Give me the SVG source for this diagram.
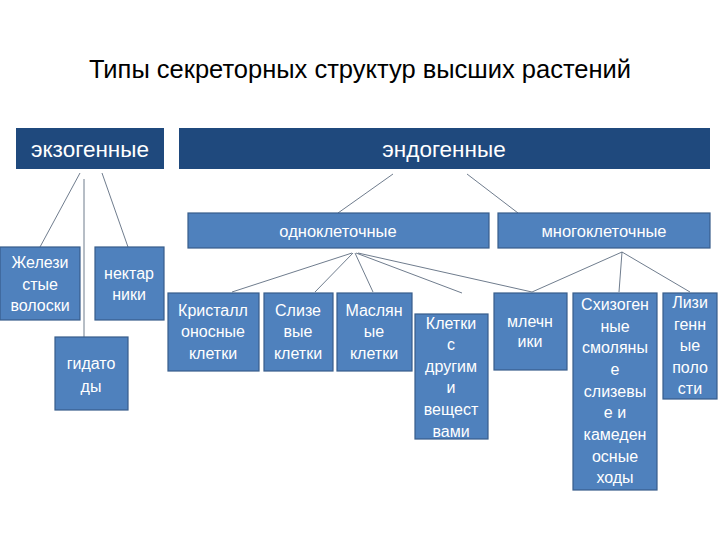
<svg xmlns="http://www.w3.org/2000/svg" width="720" height="540" viewBox="0 0 720 540">
<defs>
<style>
.top{fill:#1F497D;}
.box{fill:#4F81BD;stroke:#385D8A;stroke-width:1.2;}
.t{font-family:"Liberation Sans",Arial,sans-serif;fill:#ffffff;text-anchor:middle;font-size:16px;}
.tm{font-family:"Liberation Sans",Arial,sans-serif;fill:#ffffff;text-anchor:middle;font-size:16.5px;}
.tb{font-family:"Liberation Sans",Arial,sans-serif;fill:#ffffff;text-anchor:middle;font-size:22.5px;}
.title{font-family:"Liberation Sans",Arial,sans-serif;fill:#000000;text-anchor:middle;font-size:25.5px;}
#connectors line{stroke:#4a5a70;stroke-width:0.8;fill:none;}
</style>
</defs>
<rect width="720" height="540" fill="#ffffff"/>
<text class="title" x="360" y="78">Типы секреторных структур высших растений</text>

<g id="connectors">
<line x1="80" y1="173" x2="40" y2="247"/>
<line x1="84" y1="179" x2="84" y2="337"/>
<line x1="102" y1="173" x2="128" y2="247"/>
<line x1="393" y1="174" x2="338" y2="213"/>
<line x1="467" y1="174" x2="518" y2="213"/>
<line x1="352" y1="253" x2="232" y2="292"/>
<line x1="353" y1="253" x2="315" y2="292"/>
<line x1="355" y1="253" x2="373" y2="292"/>
<line x1="356" y1="253" x2="462" y2="293"/>
<line x1="358" y1="253" x2="532" y2="292"/>
<line x1="622" y1="252" x2="532" y2="292"/>
<line x1="622" y1="252" x2="619" y2="292"/>
<line x1="622" y1="252" x2="690" y2="292"/>
</g>

<g id="exo">
<rect class="top" x="16" y="128" width="148" height="41"/>
<text class="tb" x="90" y="157">экзогенные</text>
</g>
<g id="endo">
<rect class="top" x="179" y="128" width="531" height="41"/>
<text class="tb" x="444" y="157">эндогенные</text>
</g>
<g id="uni">
<rect class="box" x="188" y="213" width="301" height="35"/>
<text class="tm" x="338" y="237">одноклеточные</text>
</g>
<g id="multi">
<rect class="box" x="498" y="213" width="212" height="35"/>
<text class="tm" x="604" y="237">многоклеточные</text>
</g>

<g id="hairs">
<rect class="box" x="0" y="247" width="80" height="73"/>
<text class="t" x="40" y="268">Желези</text>
<text class="t" x="40" y="290">стые</text>
<text class="t" x="40" y="311">волоски</text>
</g>
<g id="nectar">
<rect class="box" x="95" y="247" width="69" height="73"/>
<text class="t" x="129" y="279">нектар</text>
<text class="t" x="129" y="300">ники</text>
</g>
<g id="hydat">
<rect class="box" x="55" y="337" width="73" height="73"/>
<text class="t" x="91" y="369">гидато</text>
<text class="t" x="91" y="392">ды</text>
</g>

<g id="crystal">
<rect class="box" x="168" y="293" width="91" height="78"/>
<text class="t" x="213" y="316">Кристалл</text>
<text class="t" x="213" y="337">оносные</text>
<text class="t" x="213" y="359">клетки</text>
</g>
<g id="mucus">
<rect class="box" x="264" y="293" width="69" height="78"/>
<text class="t" x="298" y="316">Слизе</text>
<text class="t" x="298" y="337">вые</text>
<text class="t" x="298" y="359">клетки</text>
</g>
<g id="oil">
<rect class="box" x="337" y="293" width="75" height="78"/>
<text class="t" x="374" y="316">Маслян</text>
<text class="t" x="374" y="337">ые</text>
<text class="t" x="374" y="359">клетки</text>
</g>
<g id="other">
<rect class="box" x="415" y="314" width="73" height="125"/>
<text class="t" x="451" y="329">Клетки</text>
<text class="t" x="451" y="350">с</text>
<text class="t" x="451" y="372">другим</text>
<text class="t" x="451" y="393">и</text>
<text class="t" x="451" y="415">вещест</text>
<text class="t" x="451" y="437">вами</text>
</g>
<g id="latex">
<rect class="box" x="494" y="293" width="73" height="77"/>
<text class="t" x="530" y="327">млечн</text>
<text class="t" x="530" y="347">ики</text>
</g>
<g id="schizo">
<rect class="box" x="573" y="293" width="84" height="197"/>
<text class="t" x="615" y="310">Схизоген</text>
<text class="t" x="615" y="332">ные</text>
<text class="t" x="615" y="353">смоляны</text>
<text class="t" x="615" y="375">е</text>
<text class="t" x="615" y="397">слизевы</text>
<text class="t" x="615" y="418">е и</text>
<text class="t" x="615" y="440">камеден</text>
<text class="t" x="615" y="462">осные</text>
<text class="t" x="615" y="483">ходы</text>
</g>
<g id="lysi">
<rect class="box" x="663" y="293" width="54" height="106"/>
<text class="t" x="690" y="308">Лизи</text>
<text class="t" x="690" y="330">генн</text>
<text class="t" x="690" y="351">ые</text>
<text class="t" x="690" y="373">поло</text>
<text class="t" x="690" y="394">сти</text>
</g>
</svg>
